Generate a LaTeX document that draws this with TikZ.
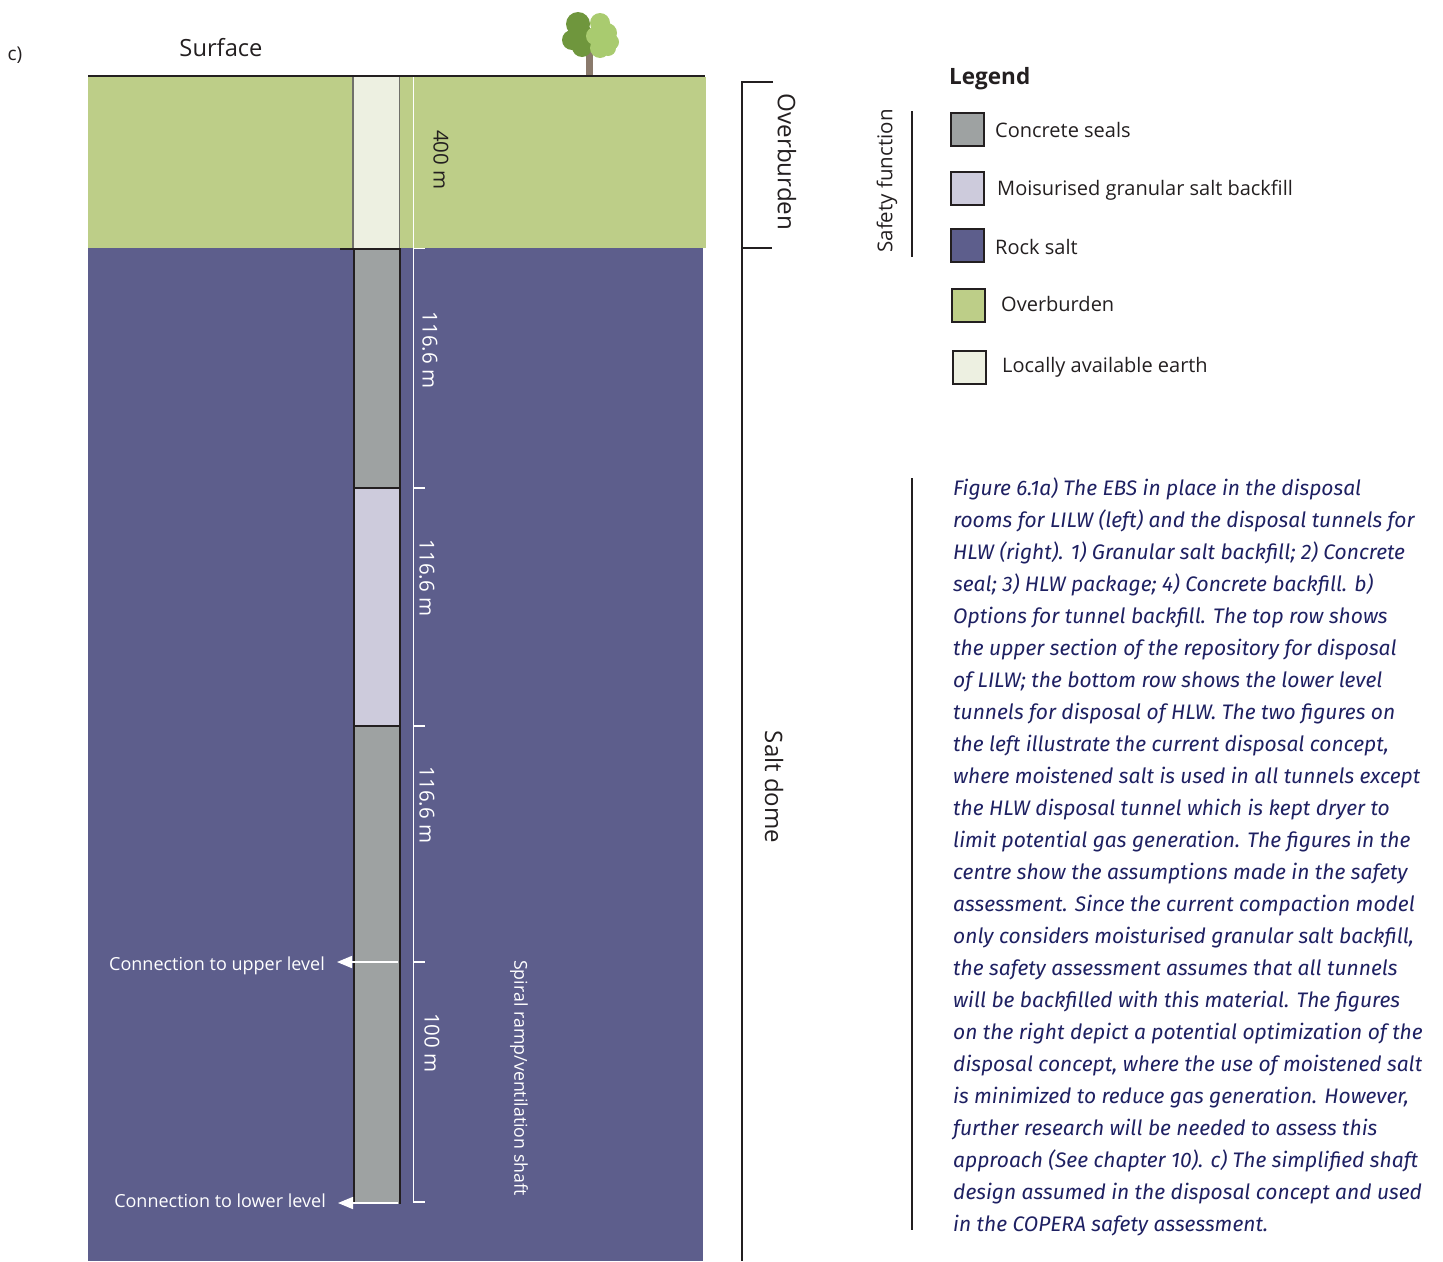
\documentclass[tikz,border=0pt]{standalone}
\usepackage{fontspec}
\setmainfont{Open Sans}
\newfontfamily\capfont{Fira Sans}
\usetikzlibrary{arrows.meta}

\definecolor{overb}{HTML}{BDCE88}
\definecolor{rocksalt}{HTML}{5D5E8C}
\definecolor{concrete}{HTML}{9EA2A2}
\definecolor{backfill}{HTML}{CDCBDC}
\definecolor{earth}{HTML}{EDF0E1}
\definecolor{ink}{HTML}{231F20}
\definecolor{captext}{HTML}{1E2062}
\definecolor{leafdark}{HTML}{6F963D}
\definecolor{leaflight}{HTML}{A9CB6F}
\definecolor{trunk}{HTML}{8A7A6C}
\definecolor{shaftedge}{HTML}{70706A}

\tikzset{
  lbl/.style={inner sep=0pt, font=\fontsize{#1}{#1}\selectfont},
  dimlbl/.style={lbl=20.5, rotate=-90, text=white},
  legbox/.style={draw=ink, line width=2pt},
  legtxt/.style={lbl=20, anchor=west, text=ink},
  conn/.style={draw=white, line width=1.6pt, -{Triangle[length=15pt,width=12pt]}},
  dimline/.style={draw=white, line width=1.3pt},
  brace/.style={draw=ink, line width=2.4pt},
  captxt/.style={inner sep=0pt, anchor=base west, text=captext,
    font=\capfont\itshape\fontsize{21}{21}\selectfont},
}

\begin{document}
\begin{tikzpicture}[x=1pt,y=-1pt]
\useasboundingbox (0,0) rectangle (1443,1261);

% ground layers
\fill[rocksalt] (88,248) rectangle (703,1261);
\fill[overb] (88,77) rectangle (706,248);

% tree
\fill[trunk] (586,46) rectangle (593,76);
\fill[leafdark] (578,24) circle (12) (572,40) circle (10) (582,47) circle (10) (580,34) circle (12);
\fill[leaflight] (600,23) circle (10) (607,33) circle (10) (611,42) circle (8)
  (600,48) circle (10) (595,36) circle (9) (608,48) circle (8);

% ground line
\draw[ink, line width=2.5pt] (88,76) -- (705,76);

% shaft through the overburden
\fill[earth] (353,77) rectangle (400,248);
\draw[shaftedge, line width=1.5pt] (353,77) -- (353,248) (399.5,77) -- (399.5,248);

% shaft through the salt dome
\fill[concrete] (354,249) rectangle (400,488);
\fill[backfill] (354,488) rectangle (400,726);
\fill[concrete] (354,726) rectangle (400,1204);
\draw[ink, line width=2pt] (354,249) -- (354,1204) (400,249) -- (400,1204)
  (354,488) -- (400,488) (354,726) -- (400,726);
\draw[ink, line width=2pt] (340,248.5) -- (401,248.5);

% dimension line
\coordinate (dimTop) at (413.5,77);
\coordinate (dimBot) at (413.5,1202);
\draw[dimline] (dimTop) -- (dimBot) -- (425,1202);
\draw[dimline] (413.5,248.5) -- (425,248.5) (413.5,488) -- (425,488)
  (413.5,726) -- (425,726) (413.5,962) -- (425,962);

\node[dimlbl, text=ink] (d400) at (441,160) {400 m};
\node[dimlbl] (d1) at (430,350) {116.6 m};
\node[dimlbl] (d2) at (427,578) {116.6 m};
\node[dimlbl] (d3) at (427,805) {116.6 m};
\node[dimlbl] (d4) at (432,1043) {100 m};
\node[lbl=17.8, rotate=-90, text=white] (ramp) at (519,1078) {Spiral ramp/ventilation shaft};

% connections
\coordinate (upStart) at (398,962);
\coordinate (upTip) at (337,962);
\coordinate (lowStart) at (398,1203);
\coordinate (lowTip) at (338,1203);
\draw[conn] (upStart) -- (upTip);
\draw[conn] (lowStart) -- (lowTip);
\node[lbl=18, anchor=east, text=white] (upLbl) at (325,966) {Connection to upper level};
\node[lbl=18, anchor=east, text=white] (lowLbl) at (326,1201) {Connection to lower level};

% labels above ground
\node[lbl=19, text=ink] (partc) at (15,55) {c)};
\node[lbl=23.7, text=ink] (surface) at (221,48) {Surface};

% brackets
\draw[brace] (773,82) -- (742,82) -- (742,1261);
\draw[brace] (742,248) -- (772,248);
\node[lbl=24.2, rotate=-90, text=ink] (overb) at (787,162) {Overburden};
\node[lbl=24, rotate=-90, text=ink] (saltdome) at (774,787) {Salt dome};

% safety function
\draw[ink, line width=1.6pt] (912,111) -- (912,257);
\node[lbl=20.5, rotate=90, text=ink] (safety) at (887,181) {Safety function};

% legend
\node[inner sep=0pt, anchor=west, text=ink, font=\bfseries\fontsize{22.5}{22.5}\selectfont] (legend) at (949,79) {Legend};
\filldraw[legbox, fill=concrete] (951,113) rectangle (984,146);
\filldraw[legbox, fill=backfill] (951,172) rectangle (984,205);
\filldraw[legbox, fill=rocksalt] (951,229) rectangle (984,262);
\filldraw[legbox, fill=overb] (952,289) rectangle (985,322);
\filldraw[legbox, fill=earth] (953,351) rectangle (986,384);
\node[legtxt] (l1) at (995,130) {Concrete seals};
\node[legtxt] (l2) at (997,190) {Moisurised granular salt backfill};
\node[legtxt] (l3) at (995,247) {Rock salt};
\node[legtxt] (l4) at (1001,304) {Overburden};
\node[legtxt] (l5) at (1002,367) {Locally available earth};

% caption
\draw[ink, line width=1.6pt] (912,478) -- (912,1230);
\foreach \t [count=\i] in {
  {Figure 6.1a) The EBS in place in the disposal},
  {rooms for LILW (left) and the disposal tunnels for},
  {HLW (right). 1) Granular salt backfill; 2) Concrete},
  {seal; 3) HLW package; 4) Concrete backfill. b)},
  {Options for tunnel backfill. The top row shows},
  {the upper section of the repository for disposal},
  {of LILW; the bottom row shows the lower level},
  {tunnels for disposal of HLW. The two figures on},
  {the left illustrate the current disposal concept,},
  {where moistened salt is used in all tunnels except},
  {the HLW disposal tunnel which is kept dryer to},
  {limit potential gas generation. The figures in the},
  {centre show the assumptions made in the safety},
  {assessment. Since the current compaction model},
  {only considers moisturised granular salt backfill,},
  {the safety assessment assumes that all tunnels},
  {will be backfilled with this material. The figures},
  {on the right depict a potential optimization of the},
  {disposal concept, where the use of moistened salt},
  {is minimized to reduce gas generation. However,},
  {further research will be needed to assess this},
  {approach (See chapter 10). c) The simplified shaft},
  {design assumed in the disposal concept and used},
  {in the COPERA safety assessment.}}
  \node[captxt] (cap\i) at (953,{495+32*(\i-1)}) {\t};
\end{tikzpicture}
\end{document}
